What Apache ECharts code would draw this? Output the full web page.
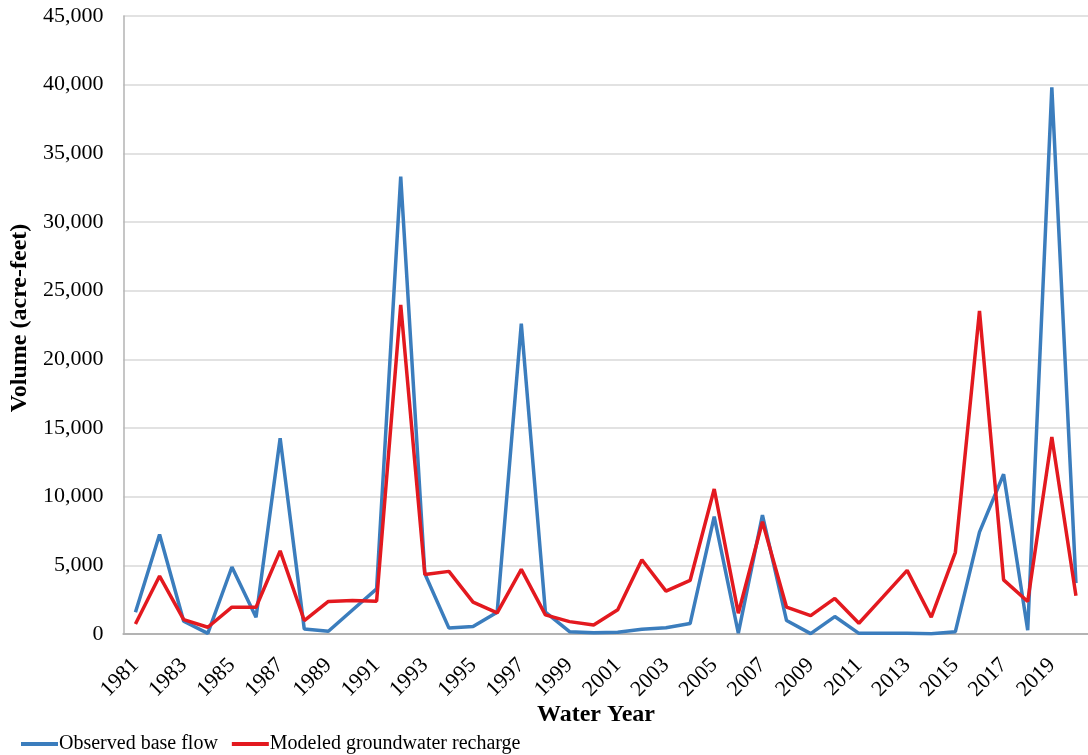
<!DOCTYPE html>
<html>
<head>
<meta charset="utf-8">
<script src="https://cdn.jsdelivr.net/npm/echarts@6/dist/echarts.min.js"></script>
<style>html,body{margin:0;padding:0;background:#fff}#c{width:1088px;height:755px}</style>
</head>
<body>
<div id="c"></div>
<script>
var years = ['1981','1982','1983','1984','1985','1986','1987','1988','1989','1990',
  '1991','1992','1993','1994','1995','1996','1997','1998','1999','2000',
  '2001','2002','2003','2004','2005','2006','2007','2008','2009','2010',
  '2011','2012','2013','2014','2015','2016','2017','2018','2019','2020'];
var baseFlow = [1590, 7240, 930, 50, 4880, 1220, 14250, 370, 200, 1750,
  3290, 33300, 4390, 430, 540, 1590, 22600, 1590, 170, 100,
  120, 340, 450, 760, 8540, 70, 8660, 980, 30, 1270,
  50, 50, 50, 20, 170, 7420, 11630, 270, 39800, 3710];
var recharge = [730, 4220, 1050, 490, 1950, 1950, 6050, 980, 2370, 2440,
  2390, 23960, 4340, 4560, 2320, 1540, 4710, 1390, 900, 660,
  1760, 5410, 3120, 3900, 10560, 1510, 8170, 1950, 1340, 2590,
  780, 2700, 4630, 1220, 5950, 23530, 3940, 2370, 14350, 2780];
var seriesNames = ['Observed base flow', 'Modeled groundwater recharge'];
var yTicks = {min: 0, max: 45000, interval: 5000};

var FONT = 'Liberation Serif';
var chart = echarts.init(document.getElementById('c'), null, {renderer: 'canvas'});
chart.setOption({
  animation: false,
  textStyle: {fontFamily: FONT},
  title: {
    text: 'Water Year',
    left: 591, top: 698, textAlign: 'center',
    textStyle: {fontFamily: FONT, fontSize: 24, fontWeight: 'bold', color: '#000'}
  },
  legend: {
    data: seriesNames,
    left: 16, top: 729,
    icon: 'rect', itemWidth: 37, itemHeight: 4, itemGap: 14,
    textStyle: {fontFamily: FONT, fontSize: 20, color: '#000', padding: [0,0,0,-4]}
  },
  grid: {left: 121, right: -9, top: 16, bottom: 121, containLabel: false},
  xAxis: {
    type: 'category',
    data: years,
    boundaryGap: true,
    axisLine: {show: true, lineStyle: {color: '#b3b3b3', width: 2}},
    axisTick: {show: false},
    axisLabel: {interval: 1, rotate: 45, fontSize: 22, color: '#000', margin: 28, fontFamily: FONT}
  },
  yAxis: {
    type: 'value',
    min: yTicks.min, max: yTicks.max, interval: yTicks.interval,
    name: 'Volume (acre-feet)',
    nameLocation: 'middle', nameGap: 88,
    nameTextStyle: {fontFamily: FONT, fontSize: 24, fontWeight: 'bold', color: '#000', padding: [0,0,0,14]},
    axisLine: {show: true, lineStyle: {color: '#b3b3b3', width: 1.5}},
    axisTick: {show: false},
    splitLine: {lineStyle: {color: '#d9d9d9', width: 1.5}},
    axisLabel: {
      fontSize: 22, color: '#000', margin: 20, fontFamily: FONT,
      formatter: function (v) { return v.toLocaleString('en-US'); }
    }
  },
  series: [
    {name: seriesNames[0], type: 'line', data: baseFlow, symbol: 'none',
     lineStyle: {color: '#3b7dbd', width: 3.5}, itemStyle: {color: '#3b7dbd'}},
    {name: seriesNames[1], type: 'line', data: recharge, symbol: 'none',
     lineStyle: {color: '#e3191f', width: 3.5}, itemStyle: {color: '#e3191f'}}
  ]
});
</script>
</body>
</html>
